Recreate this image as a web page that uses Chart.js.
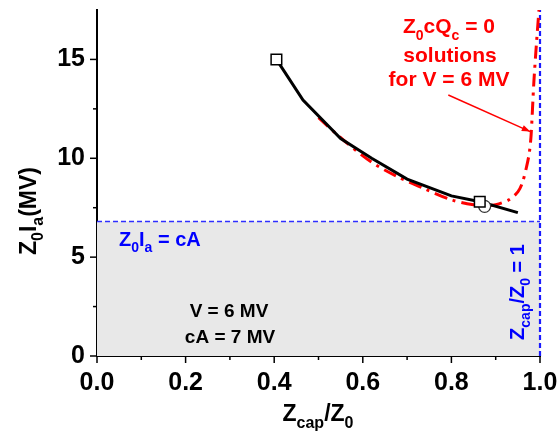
<!DOCTYPE html>
<html>
<head>
<meta charset="utf-8">
<script src="https://cdn.jsdelivr.net/npm/chart.js@4.4.1/dist/chart.umd.min.js"></script>
<style>
  html, body { margin: 0; padding: 0; background: #fff; }
  #wrap { width: 558px; height: 436px; }
</style>
</head>
<body>
<div id="wrap"><canvas id="chart" width="558" height="436"></canvas></div>
<script>
// curve data
const blackX = [0.405, 0.465, 0.55, 0.62, 0.70, 0.80, 0.865, 0.95];
const blackY = [15.0, 12.95, 11.0, 10.0, 8.95, 8.1, 7.8, 7.25];

const redX = [0.50, 0.56, 0.62, 0.68, 0.74, 0.80, 0.85, 0.88, 0.90, 0.93, 0.95, 0.96, 0.97, 0.976, 0.98, 0.986, 0.992, 0.998];
const redY = [12.05, 10.85, 9.8, 9.05, 8.45, 7.9, 7.65, 7.6, 7.65, 7.9, 8.3, 8.75, 9.6, 10.3, 11.2, 13.8, 15.8, 17.6];

const squareX = [0.405, 0.864];
const squareY = [15.0, 7.8];
const circleX = [0.875];
const circleY = [7.57];

const cALevel = 6.8;      // Z0Ia = cA line
const capLimit = 1.0;     // Zcap/Z0 = 1 line

const xMajor = [0, 0.2, 0.4, 0.6, 0.8, 1.0];
const xMinor = [0.1, 0.3, 0.5, 0.7, 0.9];
const yMajor = [0, 5, 10, 15];
const yMinor = [2.5, 7.5, 12.5];

const pts = (xs, ys) => xs.map((x, i) => ({ x: x, y: ys[i] }));
const FONT = "'Liberation Sans', Arial, sans-serif";

// draw text with subscripts, parts: [text, isSub]
function drawParts(ctx, parts, cx, cy, size, color, align) {
  ctx.save();
  ctx.fillStyle = color;
  ctx.textBaseline = "alphabetic";
  ctx.textAlign = "left";
  const subSize = Math.round(size * 0.68);
  let w = 0;
  parts.forEach(p => {
    ctx.font = "bold " + (p[1] ? subSize : size) + "px " + FONT;
    w += ctx.measureText(p[0]).width;
  });
  let x = align === "left" ? cx : cx - w / 2;
  parts.forEach(p => {
    ctx.font = "bold " + (p[1] ? subSize : size) + "px " + FONT;
    ctx.fillText(p[0], x, cy + (p[1] ? size * 0.32 : 0));
    x += ctx.measureText(p[0]).width;
  });
  ctx.restore();
}

const extras = {
  id: "extras",
  afterDraw(chart) {
    const ctx = chart.ctx;
    const xs = chart.scales.x, ys = chart.scales.y;
    const a = chart.chartArea;

    // tick marks (outward)
    ctx.save();
    ctx.strokeStyle = "#000";
    ctx.lineWidth = 1.5;
    xMajor.forEach(v => { const p = xs.getPixelForValue(v); ctx.beginPath(); ctx.moveTo(p, a.bottom); ctx.lineTo(p, a.bottom + 7); ctx.stroke(); });
    xMinor.forEach(v => { const p = xs.getPixelForValue(v); ctx.beginPath(); ctx.moveTo(p, a.bottom); ctx.lineTo(p, a.bottom + 4); ctx.stroke(); });
    yMajor.forEach(v => { const p = ys.getPixelForValue(v); ctx.beginPath(); ctx.moveTo(a.left, p); ctx.lineTo(a.left - 7, p); ctx.stroke(); });
    yMinor.forEach(v => { const p = ys.getPixelForValue(v); ctx.beginPath(); ctx.moveTo(a.left, p); ctx.lineTo(a.left - 4, p); ctx.stroke(); });
    ctx.restore();

    // axis titles
    drawParts(ctx, [["Z", false], ["cap", true], ["/Z", false], ["0", true]], 318, 421, 23, "#000");
    ctx.save();
    ctx.translate(36, 211);
    ctx.rotate(-Math.PI / 2);
    drawParts(ctx, [["Z", false], ["0", true], ["I", false], ["a", true], ["(MV)", false]], 0, 0, 23, "#000");
    ctx.restore();

    // blue labels
    drawParts(ctx, [["Z", false], ["0", true], ["I", false], ["a", true], [" = cA", false]], 119, 246, 20, "#0000ff", "left");
    ctx.save();
    ctx.translate(524, 292);
    ctx.rotate(-Math.PI / 2);
    drawParts(ctx, [["Z", false], ["cap", true], ["/Z", false], ["0", true], [" = 1", false]], 0, 0, 20, "#0000ff");
    ctx.restore();

    // black labels
    drawParts(ctx, [["V = 6 MV", false]], 229, 317, 19, "#000");
    drawParts(ctx, [["cA = 7 MV", false]], 230, 343, 19, "#000");

    // red labels
    drawParts(ctx, [["Z", false], ["0", true], ["cQ", false], ["c", true], [" = 0", false]], 449, 33, 21, "#ff0000");
    drawParts(ctx, [["solutions", false]], 450, 62, 21, "#ff0000");
    drawParts(ctx, [["for V = 6 MV", false]], 449, 86, 21, "#ff0000");

    // arrow pointing at the red curve
    const x0 = xs.getPixelForValue(0.793), y0 = ys.getPixelForValue(13.2);
    const x1 = xs.getPixelForValue(0.978), y1 = ys.getPixelForValue(11.35);
    const ang = Math.atan2(y1 - y0, x1 - x0);
    ctx.save();
    ctx.strokeStyle = "#ff0000";
    ctx.fillStyle = "#ff0000";
    ctx.lineWidth = 1.5;
    ctx.beginPath(); ctx.moveTo(x0, y0); ctx.lineTo(x1, y1); ctx.stroke();
    ctx.beginPath();
    ctx.moveTo(x1, y1);
    ctx.lineTo(x1 - 9 * Math.cos(ang - 0.35), y1 - 9 * Math.sin(ang - 0.35));
    ctx.lineTo(x1 - 9 * Math.cos(ang + 0.35), y1 - 9 * Math.sin(ang + 0.35));
    ctx.closePath(); ctx.fill();
    ctx.restore();
  }
};

new Chart(document.getElementById("chart").getContext("2d"), {
  type: "scatter",
  data: {
    datasets: [
      {
        label: "squares",
        data: pts(squareX, squareY),
        pointStyle: "rect",
        pointRadius: 7.5,
        pointBorderColor: "#000",
        pointBackgroundColor: "#fff",
        pointBorderWidth: 1.5,
        showLine: false,
        order: 1,
      },
      {
        label: "circle",
        data: pts(circleX, circleY),
        pointStyle: "circle",
        pointRadius: 6,
        pointBorderColor: "#333",
        pointBackgroundColor: "#fff",
        pointBorderWidth: 1.2,
        showLine: false,
        order: 2,
      },
      {
        label: "black",
        data: pts(blackX, blackY),
        showLine: true,
        borderColor: "#000",
        borderWidth: 3,
        pointRadius: 0,
        tension: 0,
        order: 3,
      },
      {
        label: "red",
        data: pts(redX, redY),
        showLine: true,
        borderColor: "#ff0000",
        borderWidth: 3,
        borderDash: [13, 6, 3, 6],
        pointRadius: 0,
        tension: 0.3,
        order: 4,
      },
      {
        label: "cap limit",
        data: [{ x: capLimit, y: 0 }, { x: capLimit, y: 17.5 }],
        showLine: true,
        borderColor: "#1a1aff",
        borderWidth: 2.2,
        borderDash: [5, 3],
        pointRadius: 0,
        clip: false,
        order: 8,
      },
      {
        label: "cA",
        data: [{ x: 0, y: cALevel }, { x: capLimit, y: cALevel }],
        showLine: true,
        borderColor: "#2f2fff",
        borderWidth: 1.5,
        borderDash: [5, 3],
        backgroundColor: "#e8e8e8",
        fill: "origin",
        pointRadius: 0,
        order: 9,
      },
    ],
  },
  options: {
    responsive: false,
    animation: false,
    layout: { padding: { left: 0, right: 18, top: 10, bottom: 38 } },
    plugins: { legend: { display: false }, tooltip: { enabled: false } },
    scales: {
      x: {
        type: "linear",
        min: 0,
        max: 1,
        afterBuildTicks: s => { s.ticks = xMajor.map(v => ({ value: v })); },
        afterFit: s => { s.height = 42; s.paddingLeft = 0; s.paddingRight = 0; },
        ticks: {
          color: "#000",
          padding: 12,
          maxRotation: 0,
          font: { family: FONT, size: 25, weight: "bold" },
          callback: v => Number(v).toFixed(1),
        },
        grid: { display: false, drawTicks: false },
        border: { display: true, color: "#000", width: 2 },
      },
      y: {
        type: "linear",
        min: 0,
        max: 17.5,
        afterBuildTicks: s => { s.ticks = yMajor.map(v => ({ value: v })); },
        afterFit: s => { s.width = 97; s.paddingTop = 0; s.paddingBottom = 0; },
        ticks: {
          color: "#000",
          padding: 12,
          font: { family: FONT, size: 25, weight: "bold" },
          callback: v => String(v),
        },
        grid: { display: false, drawTicks: false },
        border: { display: true, color: "#000", width: 2 },
      },
    },
  },
  plugins: [extras],
});
</script>
</body>
</html>
